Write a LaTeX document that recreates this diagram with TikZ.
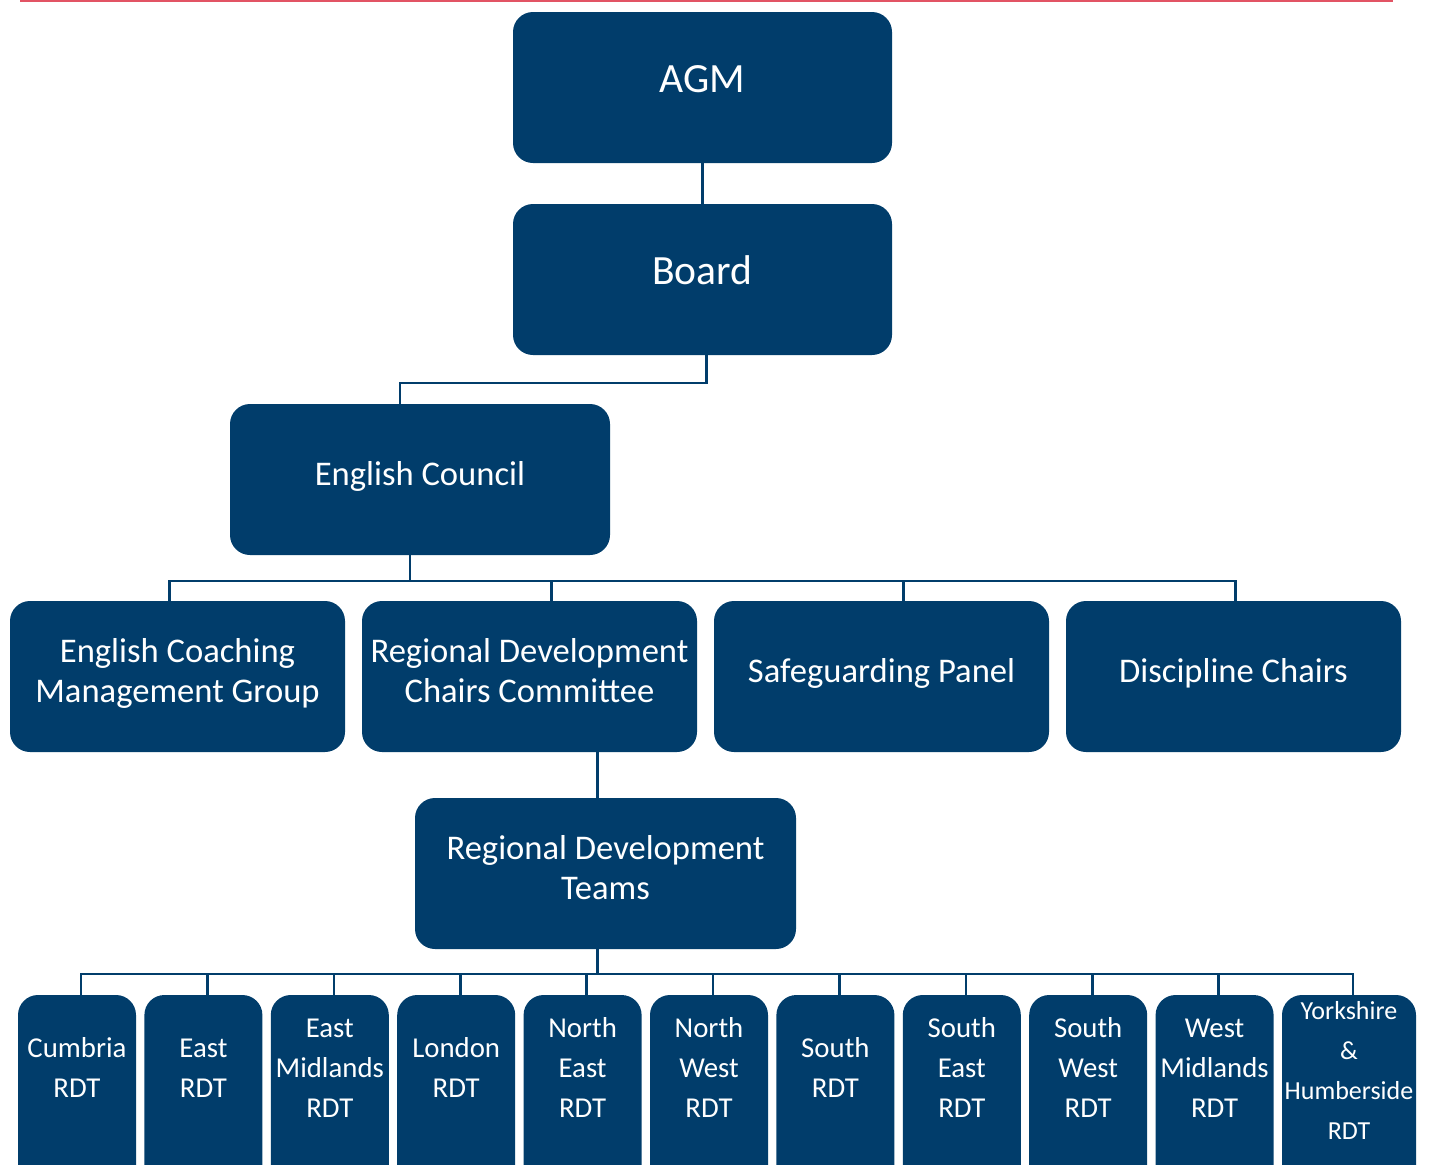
\documentclass[tikz,border=0pt]{standalone}
\usepackage{fontspec}
\setmainfont{Carlito}
\usetikzlibrary{positioning,calc}
\definecolor{boxcolor}{RGB}{1,61,107}
\definecolor{rulecolor}{RGB}{226,84,100}
\newcommand{\boxtext}[1]{\begin{tabular}{@{}c@{}}#1\end{tabular}}

\begin{document}
\begin{tikzpicture}[
    x=0.5pt, y=-0.5pt,
    node distance=20.5pt and 8.5pt,
    box/.style={rectangle, rounded corners=10pt, fill=boxcolor, draw=none, text=white, inner sep=0pt, outer sep=0pt},
    topbox/.style={box, minimum width=189.5pt, minimum height=75.5pt, text height=5.8pt, text depth=0pt, font=\fontsize{20.8}{25}\selectfont},
    midbox/.style={box, minimum width=167.5pt, minimum height=75.5pt, text height=6.3pt, text depth=0pt, font=\fontsize{17.3}{20}\selectfont},
    rdtbox/.style={box, anchor=north, minimum width=59pt, minimum height=105pt, text height=0pt, text depth=23pt, font=\fontsize{14.4}{20}\selectfont},
    link/.style={draw=boxcolor, line width=1.3pt}
]
\useasboundingbox (0,0) rectangle (1431,1164);

% Top rule
\draw[rulecolor, line width=1pt] (20,0.5) -- (1393,0.5);

% AGM and Board
\node[topbox] (agm) at (702.5,87.5) {\boxtext{AGM}};
\node[topbox, below=of agm] (board) {\boxtext{Board}};

% English Council
\node[midbox, minimum width=190pt] (ec) at (420,479.5) {\boxtext{English Council}};

% Council groups
\node[midbox] (ecmg) at (177.5,676.5) {\boxtext{English Coaching\\Management Group}};
\node[midbox, right=of ecmg] (rdcc) {\boxtext{Regional Development\\Chairs Committee}};
\node[midbox, right=of rdcc] (sp) {\boxtext{Safeguarding Panel}};
\node[midbox, right=of sp] (dc) {\boxtext{Discipline Chairs}};

% Regional Development Teams
\node[midbox, minimum width=190.5pt] (rdt) at (605.5,873.5) {\boxtext{Regional Development\\Teams}};

% Regional teams
\node[rdtbox, anchor=north west] (cumbria) at (18,995) {\boxtext{Cumbria\\RDT}};
\node[rdtbox, right=4.2pt of cumbria] (east) {\boxtext{East\\RDT}};
\node[rdtbox, right=4.2pt of east] (eastmid) {\boxtext{East\\Midlands\\RDT}};
\node[rdtbox, right=4.2pt of eastmid] (london) {\boxtext{London\\RDT}};
\node[rdtbox, right=4.2pt of london] (northeast) {\boxtext{North\\East\\RDT}};
\node[rdtbox, right=4.2pt of northeast] (northwest) {\boxtext{North\\West\\RDT}};
\node[rdtbox, right=4.2pt of northwest] (south) {\boxtext{South\\RDT}};
\node[rdtbox, right=4.2pt of south] (southeast) {\boxtext{South\\East\\RDT}};
\node[rdtbox, right=4.2pt of southeast] (southwest) {\boxtext{South\\West\\RDT}};
\node[rdtbox, right=4.2pt of southwest] (westmid) {\boxtext{West\\Midlands\\RDT}};
\node[rdtbox, right=4.2pt of westmid, minimum width=67pt, font=\fontsize{13}{20}\selectfont] (yorkshire) {\boxtext{Yorkshire\\\&\\Humberside\\RDT}};

% Links
\draw[link] (agm) -- (board);
\draw[link] ([xshift=2pt]board.south) -- ++(0,28) -| ([xshift=-10pt]ec.north);
\draw[link] ([xshift=-5pt]ec.south) -- ++(0,26) coordinate (midbus);
\draw[link] ([xshift=-4pt]ecmg.north) |- ([xshift=1pt]dc.north |- midbus) -- ([xshift=1pt]dc.north);
\draw[link] ([xshift=11pt]rdcc.north) -- ([xshift=11pt]rdcc.north |- midbus);
\draw[link] ([xshift=11pt]sp.north) -- ([xshift=11pt]sp.north |- midbus);
\draw[link] ([xshift=-4pt]rdt.north) -- ([xshift=-4pt]rdt.north |- rdcc.south);
\draw[link] ([xshift=-4pt]rdt.south) -- ++(0,25) coordinate (rdtbus);
\draw[link] ([xshift=2pt]cumbria.north) |- ([xshift=2pt]yorkshire.north |- rdtbus) -- ([xshift=2pt]yorkshire.north);
\foreach \n in {east,eastmid,london,northeast,northwest,south,southeast,southwest,westmid}
  \draw[link] ([xshift=2pt]\n.north) -- ([xshift=2pt]\n.north |- rdtbus);

\end{tikzpicture}
\end{document}
